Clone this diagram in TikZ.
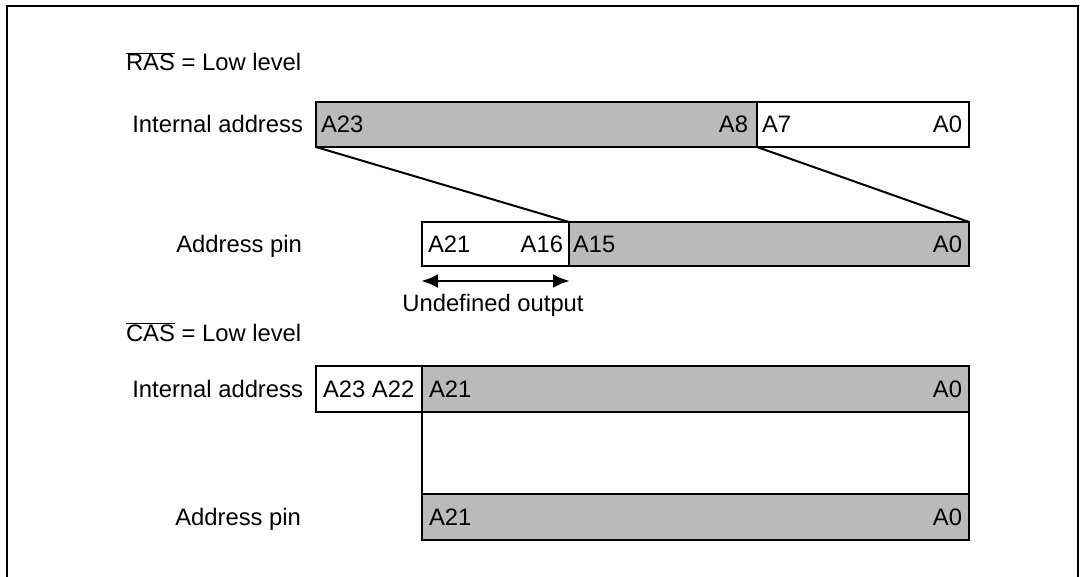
\documentclass[tikz,border=0pt]{standalone}
\usepackage{fontspec}
\setmainfont{Liberation Sans}
\usetikzlibrary{arrows.meta}
\begin{document}
\begin{tikzpicture}[x=1pt,y=-1pt,
  every node/.style={font=\fontsize{23.8}{28}\selectfont, inner sep=0pt, outer sep=0pt},
  seg/.style={draw=black, line width=2pt, anchor=north west, inner sep=0pt},
  shadedseg/.style={seg, fill=black!27},
  plainseg/.style={seg, fill=white},
  conn/.style={line width=2pt},
  dblarrow/.style={line width=2.8pt, {Latex[length=17pt,width=14pt]}-{Latex[length=17pt,width=14pt]}},
  lbl/.style={anchor=base east},
  lt/.style={anchor=base west},
  rt/.style={anchor=base east},
]
\useasboundingbox (0,0) rectangle (1081,577);
\draw[line width=2pt] (7,577) -- (7,6) -- (1078,6) -- (1078,577);

% headings
\node[lt] (ras) at (126,71) {$\overline{\hbox{RAS}}$ = Low level};
\node[lt] (cas) at (126,341) {$\overline{\hbox{CAS}}$ = Low level};

% row 1: RAS internal address
\node[lbl] (l1) at (303,133) {Internal address};
\node[shadedseg, minimum width=441pt, minimum height=45pt] (r1a) at (316,102) {};
\node[plainseg, minimum width=212pt, minimum height=45pt] (r1b) at (757,102) {};
\node[lt] (t1a) at (321,133) {A23};
\node[rt] (t1b) at (748,133) {A8};
\node[lt] (t1c) at (762,133) {A7};
\node[rt] (t1d) at (962,133) {A0};

% row 2: RAS address pin
\node[lbl] (l2) at (302,253) {Address pin};
\node[plainseg, minimum width=147pt, minimum height=44pt] (r2a) at (422,222) {};
\node[shadedseg, minimum width=400pt, minimum height=44pt] (r2b) at (569,222) {};
\node[lt] (t2a) at (428,253) {A21};
\node[rt] (t2b) at (563,253) {A16};
\node[lt] (t2c) at (573,253) {A15};
\node[rt] (t2d) at (962,253) {A0};

\draw[conn] (r1a.south west) -- (r2b.north west);
\draw[conn] (r1b.south west) -- (r2b.north east);

% undefined output arrow
\coordinate (u1) at (421,281);
\coordinate (u2) at (570,281);
\draw[dblarrow] (u1) -- (u2);
\node[anchor=base] (und) at (493,311) {Undefined output};

% row 3: CAS internal address
\node[lbl] (l3) at (303,397) {Internal address};
\node[plainseg, minimum width=106pt, minimum height=46pt] (r3a) at (316,366) {};
\node[shadedseg, minimum width=547pt, minimum height=46pt] (r3b) at (422,366) {};
\node[lt] (t3a) at (323,397) {A23 A22};
\node[lt] (t3b) at (429,397) {A21};
\node[rt] (t3c) at (962,397) {A0};

% gap box
\node[plainseg, minimum width=547pt, minimum height=82pt] (gap) at (422,412) {};

% row 4: CAS address pin
\node[lbl] (l4) at (301,525) {Address pin};
\node[shadedseg, minimum width=547pt, minimum height=46pt] (r4) at (422,494) {};
\node[lt] (t4a) at (429,525) {A21};
\node[rt] (t4b) at (962,525) {A0};
\end{tikzpicture}
\end{document}
